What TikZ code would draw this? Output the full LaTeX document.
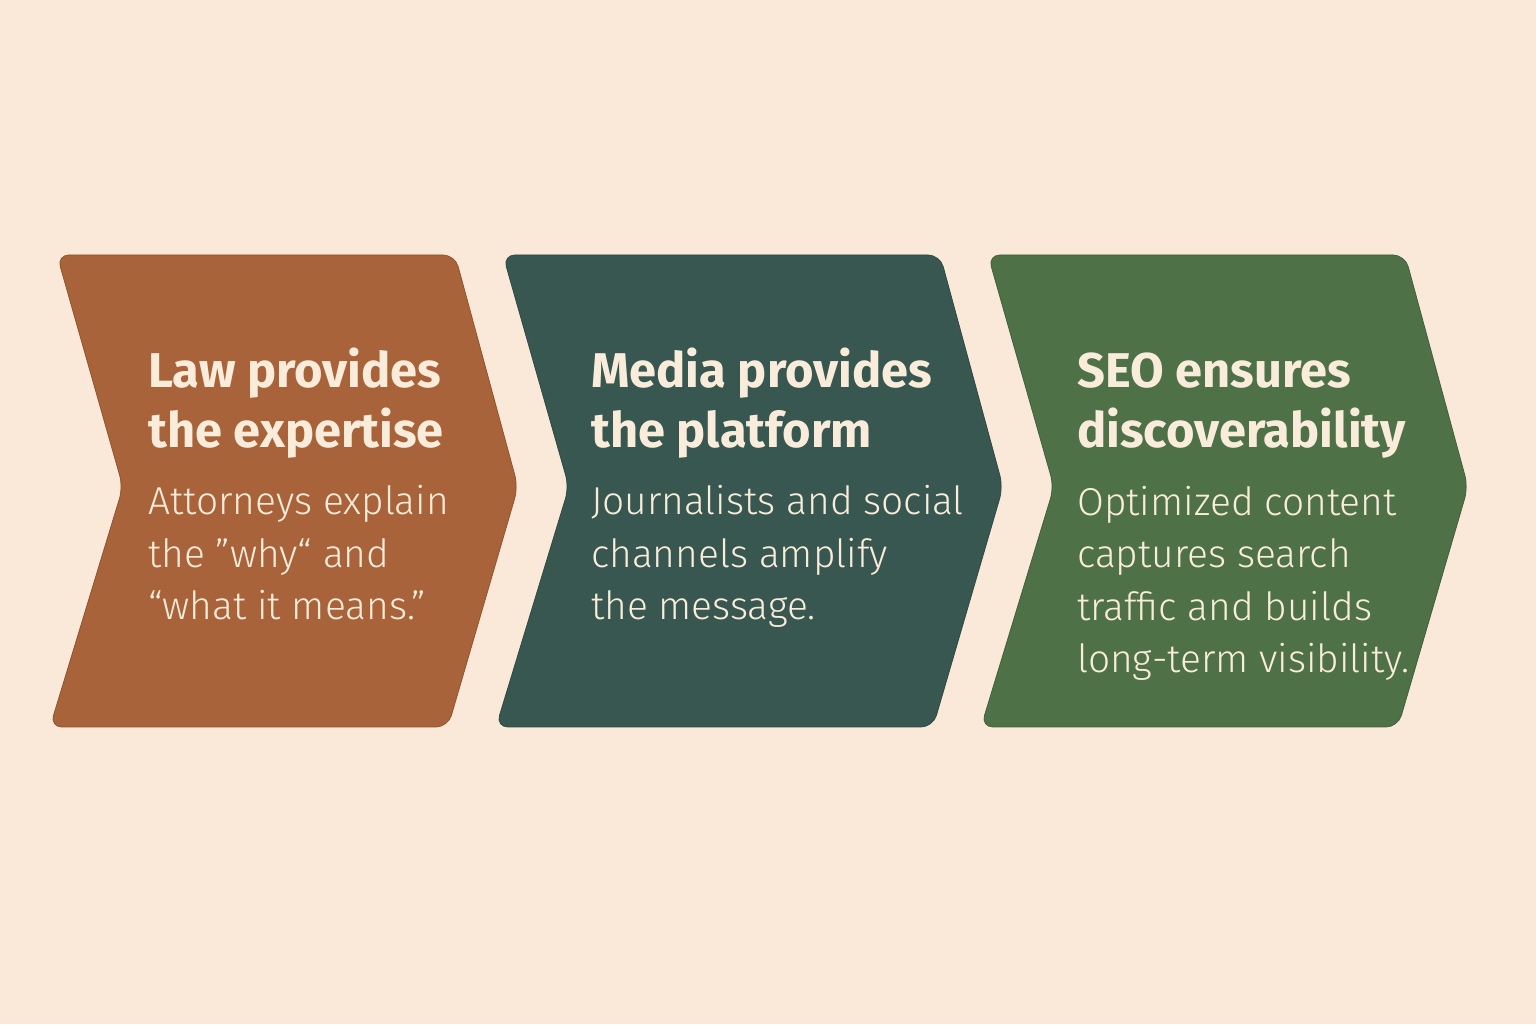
\documentclass[tikz,border=0pt]{standalone}
\usepackage{fontspec}
\setmainfont{Fira Sans}
\newfontfamily\lightfont{Fira Sans Light}
\usetikzlibrary{positioning}
\definecolor{PageCream}{RGB}{250,232,216}
\definecolor{LawColor}{RGB}{168,99,58}
\definecolor{MediaColor}{RGB}{55,87,80}
\definecolor{SeoColor}{RGB}{78,113,72}
\definecolor{TextCream}{RGB}{250,236,218}

\begin{document}
\begin{tikzpicture}[x=1bp,y=1bp,
  chev/.style={fill=#1,draw=#1!85!black,line width=0.8bp,rounded corners=12bp},
  ttl/.style={anchor=base west,align=left,inner sep=0,text=TextCream,font=\fontsize{49}{61}\selectfont\bfseries},
  body/.style={anchor=base west,align=left,inner sep=0,text=TextCream,font=\fontsize{39}{52.7}\selectfont\lightfont}]
\fill[PageCream] (0,0) rectangle (1536,1024);
% chevrons
\foreach \l/\r/\c in {50/455/LawColor,496/940/MediaColor,981/1405/SeoColor} {
  \draw[chev=\c] (\l+7,769) -- (\r,769) -- (\r+63,537) -- (\r-7,297) -- (\l,297) -- (\l+73,537) -- cycle;
}
% texts (anchored at the last baseline)
\node[ttl] (lawttl) at (148,576) {Law provides\\the expertise};
\node[body] (lawtxt) at (148,404) {Attorneys explain\\the ”why“ and\\“what it means.”};
\node[ttl] (mediattl) at (591,576) {Media provides\\the platform};
\node[body] (mediatxt) at (591,404) {Journalists and social\\channels amplify\\the message.};
\node[ttl] (seottl) at (1077,576) {SEO ensures\\discoverability};
\node[body] (seotxt) at (1077,351) {Optimized content\\captures search\\traffic and builds\\long-term visibility.};
\end{tikzpicture}
\end{document}
